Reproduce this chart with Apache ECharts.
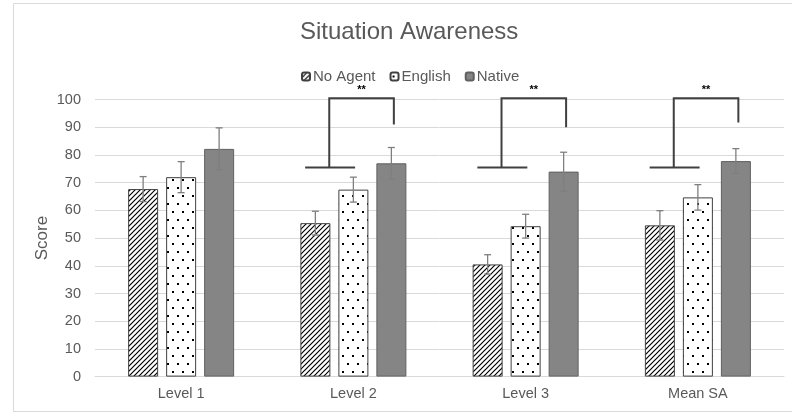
<!DOCTYPE html>
<html>
<head>
<meta charset="utf-8">
<style>
  html, body { margin: 0; padding: 0; background: #fff; }
  #chart { width: 792px; height: 412px; }
</style>
<script src="https://cdn.jsdelivr.net/npm/echarts@6/dist/echarts.min.js"></script>
</head>
<body>
<div id="chart"></div>
<script>
const categories = ['Level 1', 'Level 2', 'Level 3', 'Mean SA']
const noAgent = [67.7, 55.4, 40.5, 54.6]
const noAgentErr = [4.5, 4.3, 3.5, 5.3]
const english = [72.0, 67.5, 54.3, 64.7]
const englishErr = [5.6, 4.5, 4.3, 4.6]
const native = [82.2, 77.0, 74.0, 77.8]
const nativeErr = [7.6, 5.7, 7.0, 4.5]

// significance brackets (** between No Agent and Native)
const sigCats = [1, 2, 3]
const sigBase = [75.5, 75.5, 75.5]
const sigTop = [100.5, 100.5, 100.5]
const sigEnd = [91.0, 90.0, 91.7]
const sigLabels = ['**', '**', '**']

const BAR_W = 30
const BAR_GAP = 8
const TEXT = '#595959'
const FONT = 'Liberation Sans'

// hatch pattern "/"
const makeHatch = () => {
  const c = document.createElement('canvas')
  c.width = 5; c.height = 5
  const g = c.getContext('2d')
  g.fillStyle = '#fff'; g.fillRect(0, 0, 5, 5)
  g.strokeStyle = '#000'; g.lineWidth = 1.2
  g.beginPath()
  g.moveTo(-1, 6); g.lineTo(6, -1)
  g.moveTo(-1, 1); g.lineTo(1, -1)
  g.moveTo(4, 6); g.lineTo(6, 4)
  g.stroke()
  return c
}

// sparse staggered dots
const makeDots = () => {
  const c = document.createElement('canvas')
  c.width = 10; c.height = 16
  const g = c.getContext('2d')
  g.fillStyle = '#fff'; g.fillRect(0, 0, 10, 16)
  g.fillStyle = '#000'
  g.fillRect(2, 3, 2, 2)
  g.fillRect(7, 11, 2, 2)
  return c
}

const chart = echarts.init(document.getElementById('chart'))

const errRender = (idx) => (params, api) => {
  const cat = api.value(0)
  const v = api.value(1)
  const e = api.value(2)
  const off = (idx - 1) * (BAR_W + BAR_GAP)
  const top = api.coord([cat, v + e])
  const bot = api.coord([cat, v - e])
  const x = top[0] + off
  const cap = 3.5
  const style = { stroke: '#7f7f7f', lineWidth: 1.3 }
  return {
    type: 'group',
    children: [
      { type: 'line', shape: { x1: x, y1: top[1], x2: x, y2: bot[1] }, style },
      { type: 'line', shape: { x1: x - cap, y1: top[1], x2: x + cap, y2: top[1] }, style },
      { type: 'line', shape: { x1: x - cap, y1: bot[1], x2: x + cap, y2: bot[1] }, style }
    ]
  }
}

const sigRender = (params, api) => {
  const c = api.value(0)
  const base = api.value(1)
  const topV = api.value(2)
  const endV = api.value(3)
  const pBaseL = api.coord([c - 0.28, base])
  const pBaseR = api.coord([c + 0.01, base])
  const pMidB = api.coord([c - 0.14, base])
  const pMidT = api.coord([c - 0.14, topV])
  const pRT = api.coord([c + 0.235, topV])
  const pRE = api.coord([c + 0.235, endV])
  const style = { stroke: '#404040', lineWidth: 2, fill: null }
  return {
    type: 'group',
    children: [
      { type: 'line', shape: { x1: pBaseL[0], y1: pBaseL[1], x2: pBaseR[0], y2: pBaseR[1] }, style },
      { type: 'polyline', shape: { points: [pMidB, pMidT, pRT, pRE] }, style },
      {
        type: 'text',
        x: (pMidT[0] + pRT[0]) / 2,
        y: pMidT[1] - 8,
        style: {
          text: sigLabels[params.dataIndex],
          fill: '#000',
          font: 'bold 11px ' + FONT,
          align: 'center',
          verticalAlign: 'middle'
        }
      }
    ]
  }
}

const option = {
  backgroundColor: '#fff',
  animation: false,
  graphic: [
    {
      type: 'rect',
      left: 11, top: 1,
      shape: { width: 800, height: 408 },
      style: { fill: null, stroke: '#d9d9d9', lineWidth: 1 },
      silent: true
    }
  ],
  title: {
    text: 'Situation Awareness',
    left: 295,
    top: 15,
    textStyle: { color: TEXT, fontSize: 24, fontWeight: 'normal', fontFamily: FONT }
  },
  legend: {
    data: ['No Agent', 'English', 'Native'],
    top: 64,
    left: 296,
    itemWidth: 8,
    itemHeight: 8,
    itemGap: 14,
    textStyle: { color: TEXT, fontSize: 15, fontFamily: FONT, padding: [0, 0, 0, -2] }
  },
  grid: { left: 95, right: 8, top: 99.6, bottom: 35.4 },
  xAxis: [
    {
      type: 'category',
      data: categories,
      axisLine: { lineStyle: { color: '#d9d9d9', width: 1 } },
      axisTick: { show: false },
      axisLabel: { color: TEXT, fontSize: 14.5, fontFamily: FONT, margin: 10 }
    },
    {
      type: 'value',
      min: -0.5,
      max: 3.5,
      show: false
    }
  ],
  yAxis: {
    type: 'value',
    min: 0,
    max: 100,
    interval: 10,
    name: 'Score',
    nameLocation: 'middle',
    nameGap: 44,
    nameMoveOverlap: false,
    nameTextStyle: { color: TEXT, fontSize: 17, fontFamily: FONT },
    axisLine: { show: false },
    axisTick: { show: false },
    axisLabel: { color: TEXT, fontSize: 14.5, fontFamily: FONT, margin: 14 },
    splitLine: { lineStyle: { color: '#d9d9d9', width: 1 } }
  },
  series: [
    {
      name: 'No Agent',
      type: 'bar',
      data: noAgent,
      barWidth: BAR_W,
      barGap: (BAR_GAP / BAR_W * 100) + '%',
      itemStyle: { color: { image: makeHatch(), repeat: 'repeat' }, borderColor: '#404040', borderWidth: 1 }
    },
    {
      name: 'English',
      type: 'bar',
      data: english,
      barWidth: BAR_W,
      barGap: (BAR_GAP / BAR_W * 100) + '%',
      itemStyle: { color: { image: makeDots(), repeat: 'repeat' }, borderColor: '#404040', borderWidth: 1 }
    },
    {
      name: 'Native',
      type: 'bar',
      data: native,
      barWidth: BAR_W,
      barGap: (BAR_GAP / BAR_W * 100) + '%',
      itemStyle: { color: '#858585', borderColor: '#606060', borderWidth: 1 }
    },
    {
      type: 'custom',
      renderItem: errRender(0),
      data: noAgent.map((v, i) => [i, v, noAgentErr[i]]),
      z: 5, silent: true
    },
    {
      type: 'custom',
      renderItem: errRender(1),
      data: english.map((v, i) => [i, v, englishErr[i]]),
      z: 5, silent: true
    },
    {
      type: 'custom',
      renderItem: errRender(2),
      data: native.map((v, i) => [i, v, nativeErr[i]]),
      z: 5, silent: true
    },
    {
      type: 'custom',
      xAxisIndex: 1,
      renderItem: sigRender,
      clip: false,
      data: sigCats.map((c, i) => [c, sigBase[i], sigTop[i], sigEnd[i]]),
      z: 6, silent: true
    }
  ]
}

chart.setOption(option)
</script>
</body>
</html>
